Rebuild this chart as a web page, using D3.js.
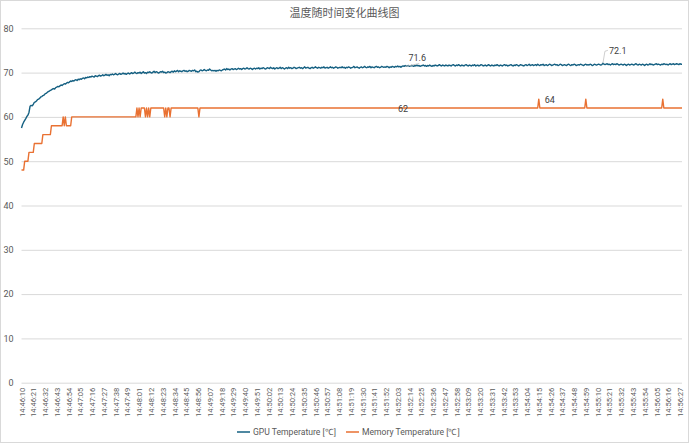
<!DOCTYPE html>
<html><head><meta charset="utf-8">
<script src="https://cdn.jsdelivr.net/npm/d3@7"></script>
<style>
html,body{margin:0;padding:0;background:#fff;}
svg{display:block;font-family:Roboto,"Noto Sans","Noto Sans CJK SC",sans-serif;}
</style></head>
<body>
<svg id="chart" width="689" height="443"></svg>
<script>
const title = "温度随时间变化曲线图";
const seriesNames = ["GPU Temperature [℃]", "Memory Temperature [℃]"];
const yTicks = [0, 10, 20, 30, 40, 50, 60, 70, 80];
const tickLabels = ["14:46:10","14:46:21","14:46:32","14:46:43","14:46:54","14:47:05","14:47:16","14:47:27","14:47:38","14:47:49",
"14:48:01","14:48:12","14:48:23","14:48:34","14:48:45","14:48:56","14:49:07","14:49:18","14:49:29","14:49:40",
"14:49:51","14:50:02","14:50:13","14:50:24","14:50:35","14:50:46","14:50:57","14:51:08","14:51:19","14:51:30",
"14:51:41","14:51:52","14:52:03","14:52:14","14:52:25","14:52:36","14:52:47","14:52:58","14:53:09","14:53:20",
"14:53:31","14:53:42","14:53:53","14:54:04","14:54:15","14:54:26","14:54:37","14:54:48","14:54:59","14:55:10",
"14:55:21","14:55:32","14:55:43","14:55:54","14:56:05","14:56:16","14:56:27"];
const tickEvery = 11;

const gpuTemp = [
57.5,58.3,58.8,59.2,59.6,60.1,60.4,61.0,62.4,62.6,62.5,62.8,63.3,63.4,63.6,63.9,64.0,64.2,64.5,64.6,
64.8,64.9,65.2,65.3,65.5,65.7,65.8,66.0,66.1,66.3,66.4,66.3,66.6,66.7,66.9,66.8,67.0,67.2,67.1,67.3,
67.5,67.4,67.6,67.8,67.7,67.9,68.1,68.0,68.2,68.1,68.3,68.4,68.2,68.5,68.4,68.6,68.5,68.7,68.8,68.6,
68.9,68.8,69.0,68.9,69.1,69.0,69.2,69.1,69.0,69.3,69.2,69.1,69.3,69.4,69.2,69.3,69.5,69.3,69.4,69.6,
69.4,69.5,69.3,69.6,69.5,69.7,69.5,69.6,69.8,69.6,69.5,69.7,69.8,69.6,69.7,69.9,69.7,69.8,69.6,69.8,
69.9,69.7,69.8,70.0,69.8,69.9,70.1,69.9,69.8,70.0,69.9,70.1,69.8,70.0,70.2,69.9,70.0,69.8,70.1,70.0,
70.2,70.0,69.9,70.1,70.3,70.0,70.2,70.1,69.9,70.0,70.2,70.1,70.3,70.0,70.1,69.9,70.0,70.2,70.1,70.0,
70.2,70.3,70.1,70.4,70.2,70.3,70.5,70.2,70.4,70.3,70.2,70.4,70.5,70.3,70.4,70.2,70.3,70.5,70.4,70.3,
70.5,70.4,70.6,70.2,70.3,70.1,70.2,70.5,70.6,70.4,70.5,70.7,70.5,70.4,70.6,70.5,70.8,70.6,70.4,70.5,
70.4,70.5,70.3,70.5,70.4,70.6,70.5,70.4,70.6,70.7,70.8,70.6,70.9,70.7,70.8,70.6,70.8,70.9,70.7,70.8,
70.9,70.7,70.8,71.0,70.8,70.9,70.7,70.9,71.0,70.8,70.9,71.1,70.9,70.8,71.0,70.9,70.7,70.9,71.0,70.8,
71.0,70.9,71.1,70.8,71.0,70.9,71.1,71.0,70.8,70.9,71.1,71.0,70.9,71.2,71.0,70.9,71.1,70.8,71.0,71.1,
70.9,71.0,71.2,70.9,71.1,71.0,70.8,71.0,71.1,70.9,71.2,71.0,71.1,70.9,71.0,71.2,71.1,70.9,71.0,71.1,
71.2,71.0,71.1,70.9,71.1,71.3,71.0,71.1,71.2,71.0,70.9,71.1,71.2,71.0,71.1,71.3,71.1,71.0,71.2,71.1,
71.0,71.2,71.1,71.3,71.0,71.1,71.2,71.0,71.1,71.3,71.1,71.2,71.0,71.1,71.3,71.2,71.0,71.1,71.2,71.1,
71.3,71.1,71.2,71.0,71.2,71.1,71.3,71.2,71.0,71.1,71.2,71.4,71.1,71.2,71.3,71.1,71.0,71.2,71.3,71.1,
71.2,71.4,71.2,71.1,71.3,71.2,71.4,71.1,71.3,71.2,71.1,71.3,71.4,71.2,71.3,71.1,71.2,71.4,71.3,71.2,
71.3,71.2,71.4,71.3,71.1,71.3,71.2,71.4,71.3,71.2,71.4,71.3,71.5,71.3,71.4,71.2,71.4,71.5,71.4,71.6,
71.4,71.5,71.6,71.4,71.5,71.6,71.5,71.4,71.6,71.5,71.7,71.5,71.6,71.4,71.5,71.6,71.7,71.5,71.6,71.4,
71.6,71.5,71.7,71.5,71.4,71.6,71.5,71.7,71.6,71.5,71.6,71.8,71.6,71.5,71.7,71.6,71.5,71.7,71.6,71.5,
71.7,71.6,71.5,71.7,71.8,71.6,71.5,71.7,71.6,71.8,71.6,71.5,71.7,71.6,71.5,71.7,71.8,71.6,71.5,71.7,
71.6,71.5,71.7,71.6,71.8,71.5,71.6,71.7,71.5,71.6,71.8,71.7,71.5,71.6,71.7,71.5,71.6,71.8,71.6,71.5,
71.7,71.6,71.5,71.7,71.6,71.8,71.6,71.5,71.7,71.6,71.5,71.7,71.8,71.6,71.7,71.5,71.6,71.7,71.8,71.6,
71.5,71.7,71.6,71.8,71.7,71.5,71.6,71.8,71.7,71.6,71.5,71.7,71.8,71.6,71.7,71.9,71.6,71.7,71.8,71.6,
71.7,71.8,71.6,71.9,71.7,71.6,71.8,71.7,71.9,71.6,71.7,71.8,71.6,71.7,71.9,71.8,71.6,71.7,71.8,71.9,
71.7,71.8,71.6,71.7,71.9,71.8,71.6,71.7,71.8,71.7,71.6,71.8,71.9,71.7,71.6,71.8,71.7,71.9,71.8,71.6,
71.7,71.8,71.7,71.9,71.8,71.7,71.6,71.8,71.9,71.7,71.8,71.7,71.9,71.8,71.6,71.7,71.9,71.8,71.7,71.8,
71.9,71.8,71.7,71.8,72.1,71.9,71.8,71.9,72.0,71.8,71.9,71.7,71.9,72.0,71.8,71.9,71.8,72.0,71.9,71.7,
71.8,71.9,71.8,71.7,71.9,71.8,71.6,71.8,71.9,71.7,71.8,71.9,71.8,71.7,71.9,72.0,71.8,71.7,71.9,71.8,
71.7,71.9,71.8,71.6,71.8,71.9,71.7,71.8,72.0,71.8,71.9,71.7,71.8,71.9,72.0,71.8,71.9,71.8,71.7,71.9,
71.8,72.0,71.9,71.8,71.9,71.7,71.9,72.0,71.8,71.9,72.0,71.8,71.9,72.0,71.9,71.8,72.0,71.9,71.9];

const memTemp = [
48,48,48,50,50,50,50,52,52,52,52,52,54,54,54,54,54,54,54,54,
56,56,56,56,56,56,56,56,58,58,58,58,58,58,58,58,58,58,58,60,
58,60,58,58,58,58,58,60,60,60,60,60,60,60,60,60,60,60,60,60,
60,60,60,60,60,60,60,60,60,60,60,60,60,60,60,60,60,60,60,60,
60,60,60,60,60,60,60,60,60,60,60,60,60,60,60,60,60,60,60,60,
60,60,60,60,60,60,60,60,62,60,62,60,62,62,62,62,60,62,60,62,
60,62,62,62,62,62,62,62,62,62,62,62,62,62,60,62,60,62,62,60,
62,62,62,62,62,62,62,62,62,62,62,62,62,62,62,62,62,62,62,62,
62,62,62,62,62,62,60,62,62,62,62,62,62,62,62,62,62,62,62,62,
62,62,62,62,62,62,62,62,62,62,62,62,62,62,62,62,62,62,62,62,
62,62,62,62,62,62,62,62,62,62,62,62,62,62,62,62,62,62,62,62,
62,62,62,62,62,62,62,62,62,62,62,62,62,62,62,62,62,62,62,62,
62,62,62,62,62,62,62,62,62,62,62,62,62,62,62,62,62,62,62,62,
62,62,62,62,62,62,62,62,62,62,62,62,62,62,62,62,62,62,62,62,
62,62,62,62,62,62,62,62,62,62,62,62,62,62,62,62,62,62,62,62,
62,62,62,62,62,62,62,62,62,62,62,62,62,62,62,62,62,62,62,62,
62,62,62,62,62,62,62,62,62,62,62,62,62,62,62,62,62,62,62,62,
62,62,62,62,62,62,62,62,62,62,62,62,62,62,62,62,62,62,62,62,
62,62,62,62,62,62,62,62,62,62,62,62,62,62,62,62,62,62,62,62,
62,62,62,62,62,62,62,62,62,62,62,62,62,62,62,62,62,62,62,62,
62,62,62,62,62,62,62,62,62,62,62,62,62,62,62,62,62,62,62,62,
62,62,62,62,62,62,62,62,62,62,62,62,62,62,62,62,62,62,62,62,
62,62,62,62,62,62,62,62,62,62,62,62,62,62,62,62,62,62,62,62,
62,62,62,62,62,62,62,62,62,62,62,62,62,62,62,62,62,62,62,62,
62,62,62,62,64,62,62,62,62,62,62,62,62,62,62,62,62,62,62,62,
62,62,62,62,62,62,62,62,62,62,62,62,62,62,62,62,62,62,62,62,
62,62,62,62,62,62,62,62,64,62,62,62,62,62,62,62,62,62,62,62,
62,62,62,62,62,62,62,62,62,62,62,62,62,62,62,62,62,62,62,62,
62,62,62,62,62,62,62,62,62,62,62,62,62,62,62,62,62,62,62,62,
62,62,62,62,62,62,62,62,62,62,62,62,62,62,62,62,62,62,62,62,
64,62,62,62,62,62,62,62,62,62,62,62,62,62,62,62,62,62,62];

// indices of points carrying data labels
const gpuLabelIdx = [359, 544];
const memLabelIdx = [357, 484];

// ---------- drawing ----------
const W = 689, H = 443;
const svg = d3.select("#chart");
const colors = ["#156082", "#E97132"];
const textCol = "#595959";
const m = {left: 21.5, right: 682, top: 28.3, bottom: 382.7};

svg.append("rect").attr("x",0.5).attr("y",0.5).attr("width",W-1).attr("height",H-1)
  .attr("fill","#fff").attr("stroke","#d9d9d9").attr("stroke-width",1);

svg.append("text").attr("x", 344.5).attr("y", 17).attr("text-anchor","middle")
  .attr("font-size", 11).attr("fill", textCol).attr("font-family","Noto Sans CJK SC")
  .text(title);

const N = gpuTemp.length;
const x = d3.scaleLinear().domain([0, N-1]).range([m.left, m.right]);
const y = d3.scaleLinear().domain([0, 80]).range([m.bottom, m.top]);

// y axis + gridlines
const yAxis = svg.append("g").attr("transform", `translate(${m.left},0)`)
  .call(d3.axisLeft(y).tickValues(yTicks).tickSize(-(m.right - m.left)).tickPadding(8).tickFormat(d3.format("d")));
yAxis.select(".domain").remove();
yAxis.selectAll(".tick line").attr("stroke","#d9d9d9").attr("stroke-width",1);
yAxis.selectAll(".tick text").attr("fill",textCol).attr("font-size",9).attr("font-family","Roboto");

// x axis
const xTickVals = tickLabels.map((d,i) => i*tickEvery);
const xAxis = svg.append("g").attr("transform", `translate(0,${m.bottom})`)
  .call(d3.axisBottom(x).tickValues(xTickVals).tickSize(0).tickFormat((d,i) => tickLabels[i]));
xAxis.select(".domain").remove();
xAxis.selectAll(".tick text")
  .attr("fill",textCol).attr("font-size",7.6).attr("font-family","Roboto")
  .attr("transform","rotate(-90)").attr("text-anchor","end")
  .attr("x",-5).attr("y",0).attr("dy","0.35em");

// lines
const line = d3.line().x((d,i) => x(i)).y(d => y(d));
[gpuTemp, memTemp].forEach((s, k) => {
  svg.append("path").datum(s).attr("d", line).attr("fill","none")
    .attr("stroke", colors[k]).attr("stroke-width", 1.4).attr("stroke-linejoin","round");
});

// data labels
const lbl = svg.append("g").attr("font-size",9).attr("fill","#404040").attr("font-family","Roboto");
gpuLabelIdx.forEach((i, k) => {
  const px = x(i), py = y(gpuTemp[i]);
  if (k === 0) {
    svg.append("path").attr("d", `M${px},${py+1}L${px+14},${py-2}`).attr("stroke","#bfbfbf").attr("fill","none").attr("stroke-width",0.75);
    lbl.append("text").attr("x", px+12).attr("y", py-5).attr("text-anchor","middle").text(gpuTemp[i].toFixed(1));
  } else {
    svg.append("path").attr("d", `M${px},${py}L${px+2},${py-12}L${px+5},${py-13}`).attr("stroke","#bfbfbf").attr("fill","none").attr("stroke-width",0.75);
    lbl.append("text").attr("x", px+6).attr("y", py-9).attr("text-anchor","start").text(gpuTemp[i].toFixed(1));
  }
});
memLabelIdx.forEach((i, k) => {
  const px = x(i), py = y(memTemp[i]);
  if (k === 0) {
    lbl.append("text").attr("x", px).attr("y", py+3.5).attr("text-anchor","middle").text(memTemp[i]);
  } else {
    lbl.append("text").attr("x", px+6).attr("y", py+3.5).attr("text-anchor","start").text(memTemp[i]);
  }
});

// legend
const lg = svg.append("g").attr("font-size",8.6).attr("fill",textCol).attr("font-family","Roboto");
const legX = [237, 346];
seriesNames.forEach((n, k) => {
  lg.append("line").attr("x1", legX[k]).attr("x2", legX[k]+13).attr("y1",432).attr("y2",432)
    .attr("stroke", colors[k]).attr("stroke-width", 1.5);
  lg.append("text").attr("x", legX[k]+16).attr("y", 435).text(n);
});
</script>
</body></html>
